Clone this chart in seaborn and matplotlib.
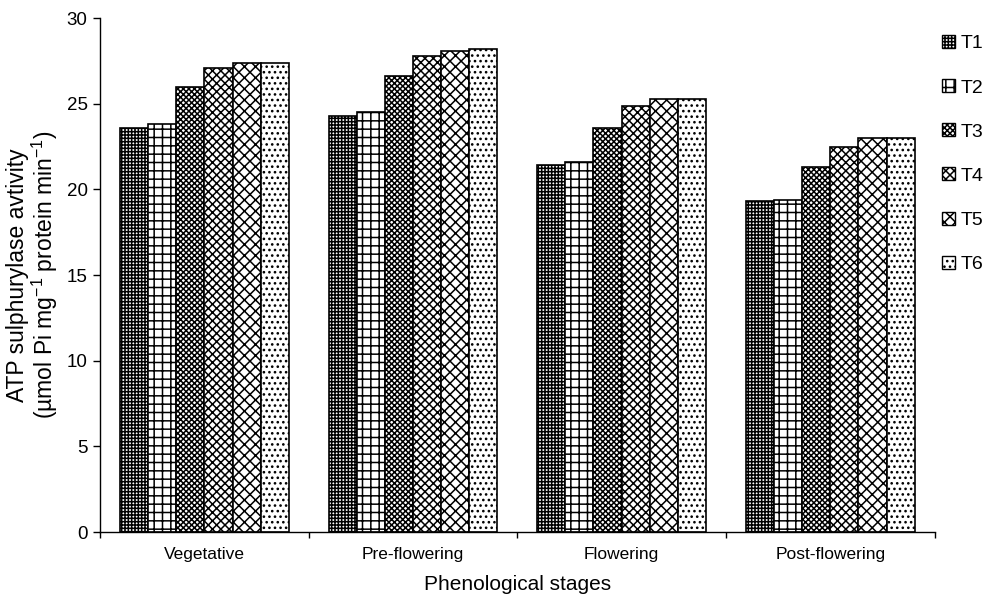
import pandas as pd
import seaborn as sns
import matplotlib.pyplot as plt
from matplotlib.patches import Patch
from matplotlib.ticker import FixedLocator

sns.set_theme(style="white")
plt.rcParams['font.family'] = ['Liberation Sans', 'DejaVu Sans']
plt.rcParams['mathtext.default'] = 'regular'
plt.rcParams['hatch.linewidth'] = 1.1
plt.rcParams['text.color'] = 'black'
plt.rcParams['axes.labelcolor'] = 'black'
plt.rcParams['xtick.color'] = 'black'
plt.rcParams['ytick.color'] = 'black'

# Data
stages = ['Vegetative', 'Pre-flowering', 'Flowering', 'Post-flowering']
treatments = ['T1', 'T2', 'T3', 'T4', 'T5', 'T6']
t1 = [23.6, 24.3, 21.4, 19.3]
t2 = [23.8, 24.5, 21.6, 19.4]
t3 = [26.0, 26.6, 23.6, 21.3]
t4 = [27.1, 27.8, 24.9, 22.5]
t5 = [27.4, 28.1, 25.3, 23.0]
t6 = [27.4, 28.2, 25.3, 23.0]

rows = []
for name, vals in zip(treatments, [t1, t2, t3, t4, t5, t6]):
    for stage, v in zip(stages, vals):
        rows.append({'Stage': stage, 'Treatment': name, 'Value': v})
df = pd.DataFrame(rows)

hatches = ['+++++', '++', 'xxxxxx', 'xxxx', 'xxx', '...']

fig = plt.figure(figsize=(9.91, 6.04), dpi=100)
ax = fig.add_axes([0.101, 0.119, 0.842, 0.851])

sns.barplot(data=df, x='Stage', y='Value', hue='Treatment', order=stages,
            hue_order=treatments, palette=['white'] * 6,
            width=0.81, gap=0, edgecolor='black', linewidth=1.2,
            legend=False, ax=ax)

for cont, h in zip(ax.containers, hatches):
    for bar in cont:
        bar.set_hatch(h)
        bar.set_edgecolor('black')

ax.set_ylim(0, 30)
ax.set_xlim(-0.5, 3.5)
ax.set_yticks(range(0, 31, 5))
ax.tick_params(axis='y', labelsize=13.5, direction='out', length=5, width=1,
               left=True, pad=4)
ax.tick_params(axis='x', which='major', length=0, labelsize=12.5, pad=11)
ax.xaxis.set_minor_locator(FixedLocator([-0.5, 0.5, 1.5, 2.5, 3.5]))
ax.tick_params(axis='x', which='minor', direction='out', length=4, width=1,
               bottom=True)

for side in ['top', 'right']:
    ax.spines[side].set_visible(False)
for side in ['left', 'bottom']:
    ax.spines[side].set_color('black')
    ax.spines[side].set_linewidth(1)

ax.set_xlabel('Phenological stages', fontsize=15, labelpad=9)
ax.set_ylabel('ATP sulphurylase avtivity\n(µmol Pi mg$^{-1}$ protein min$^{-1}$)',
              fontsize=16.5, labelpad=5, linespacing=1.0)

handles = [Patch(facecolor='white', edgecolor='black', hatch=h) for h in hatches]
fig.legend(handles, treatments, loc='upper left', bbox_to_anchor=(0.951, 0.942),
           frameon=False, fontsize=14, handlelength=0.65, handleheight=0.65,
           handletextpad=0.3, labelspacing=1.38, borderpad=0, borderaxespad=0)

plt.savefig('out.png', dpi=100)
